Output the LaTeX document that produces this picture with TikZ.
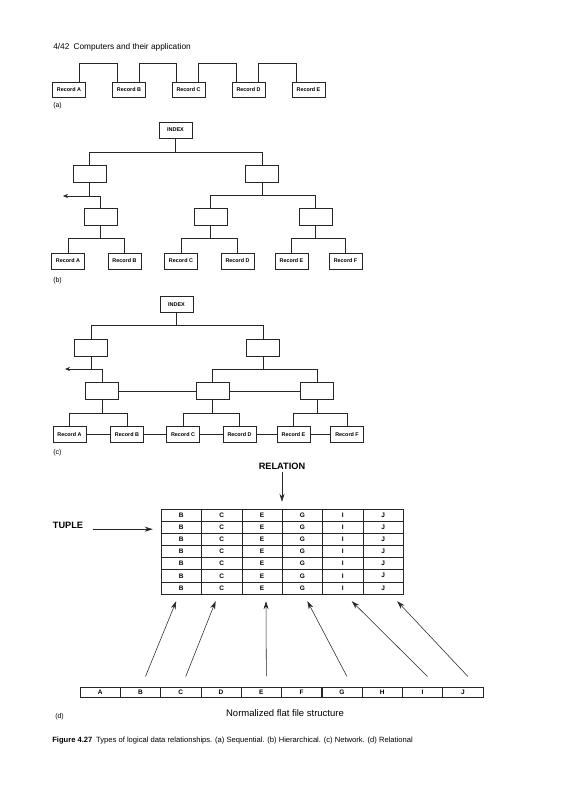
\documentclass[tikz,border=0pt]{standalone}
\usepackage{fontspec}
\setmainfont{Liberation Sans}
\usetikzlibrary{arrows.meta, calc}

\begin{document}
\begin{tikzpicture}[x=1pt, y=-1pt,
    every path/.style={line width=0.55pt, black!85},
    every node/.style={text=black},
    rec/.style={draw, minimum width=33pt, minimum height=16pt, inner sep=0pt,
                font=\fontsize{5.4}{6}\selectfont\bfseries},
    idx/.style={rec, font=\fontsize{5.5}{6}\selectfont\bfseries},
    cell/.style={draw, minimum width=40.4pt, minimum height=12.1pt, inner sep=0pt,
                 font=\fontsize{6.5}{7}\selectfont\bfseries},
    lbl/.style={anchor=west, inner sep=0pt, font=\fontsize{7}{8}\selectfont},
    big/.style={inner sep=0pt, font=\fontsize{9.2}{10}\selectfont\bfseries},
    arr/.style={-{Stealth[length=8pt, width=5pt]}},
    outarr/.style={-{Stealth[length=5pt, width=4pt]}}
  ]
  \path[use as bounding box, fill=white] (0,0) rectangle (567,800);

  \node[lbl, font=\fontsize{8.3}{9}\selectfont] (hdr) at (53,47) {4/42\enspace Computers and their application};

  % (a) sequential
  \foreach \n/\x in {A/69, B/129, C/188.5, D/248.5, E/308.5}
    \node[rec, minimum height=15pt] (a\n) at (\x,90) {Record \n};
  \foreach \p/\q in {A/B, B/C, C/D, D/E}
    \draw ([xshift=-7pt]a\p.north east) -- ++(0,-19) -| ([xshift=5pt]a\q.north west);
  \node[lbl] (la) at (53,106) {(a)};

  % (b) hierarchical
  \node[idx] (bIdx) at (175.5,130) {INDEX};
  \foreach \n/\x/\y in {bL1/89.5/173.5, bR1/262/173.5, bL2/100.5/217, bM2/210.5/217, bR2/315.5/217}
    \node[rec, minimum height=17pt] (\n) at (\x,\y) {};
  \foreach \n/\x in {A/68, B/124.5, C/181, D/237.5, E/291.5, F/345.5}
    \node[rec] (b\n) at (\x,261) {Record \n};
  \foreach \p/\l/\r/\y in {bIdx/bL1/bR1/152, bR1/bM2/bR2/195, bL2/bA/bB/238, bM2/bC/bD/238, bR2/bE/bF/238}
    \draw (\p.south) -- (\p.south |- 0,\y) (\l.north) |- (\r.north |- 0,\y) -- (\r.north);
  \coordinate (bOut) at (63,196);
  \draw (bL1.south) -- (bL1.south |- bOut);
  \draw[outarr] (bL2.north) |- (bOut);
  \node[lbl] (lb) at (53,281) {(b)};

  % (c) network
  \node[idx] (cIdx) at (176.5,304.5) {INDEX};
  \foreach \n/\x/\y in {cL1/91/347.5, cR1/263/347.5, cL2/102/391, cM2/212.5/391, cR2/317/391}
    \node[rec, minimum height=17pt] (\n) at (\x,\y) {};
  \foreach \n/\x in {A/69.5, B/127, C/183, D/239.5, E/293.5, F/347}
    \node[rec] (c\n) at (\x,434.5) {Record \n};
  \foreach \p/\l/\r/\y in {cIdx/cL1/cR1/325, cR1/cM2/cR2/369, cL2/cA/cB/413, cM2/cC/cD/413, cR2/cE/cF/413}
    \draw (\p.south) -- (\p.south |- 0,\y) (\l.north) |- (\r.north |- 0,\y) -- (\r.north);
  \coordinate (cOut) at (65,369);
  \draw (cL1.south) -- (cL1.south |- cOut);
  \draw[outarr] (cL2.north) |- (cOut);
  \draw (cL2) -- (cM2) -- (cR2);
  \draw (cA) -- (cB) -- (cC) -- (cD) -- (cE) -- (cF);
  \node[lbl] (lc) at (53,453) {(c)};

  % (d) relational
  \node[big] (rel) at (282,466) {RELATION};
  \foreach \l [count=\c] in {B,C,E,G,I,J}
    \foreach \r in {1,...,7}
      \node[cell] (t\r-\c) at ({161+40.4*(\c-0.5)},{509+12.14*(\r-0.5)}) {\l};
  \draw[arr, shorten <=2pt, shorten >=7pt] (rel.south) -- (rel.south |- t1-3.north);
  \node[big] (tup) at (68,525) {TUPLE};
  \draw[arr] ([xshift=-68pt, yshift=-2pt]t2-1.west) -- ([xshift=-8pt, yshift=-2pt]t2-1.west);

  \foreach \l [count=\c] in {A,B,C,D,E,F,G,H,I,J}
    \node[cell, minimum height=9.5pt] (f\c) at ({80+40.3*(\c-0.5)},692.5) {\l};
  \foreach \f/\t/\dx in {2/1/-5, 3/2/-6, 5/3/4, 7/4/5, 9/5/9, 10/6/14}
    \draw[arr] ([xshift=5pt, yshift=11pt]f\f.north) -- ([xshift=\dx pt, yshift=-7pt]t7-\t.south);
  \node[font=\fontsize{9.5}{10}\selectfont, inner sep=0pt] (nff) at (285,713) {Normalized flat file structure};
  \node[lbl] (ld) at (55,717) {(d)};

  \node[lbl, font=\fontsize{7.6}{9}\selectfont] (cap) at (52,741)
    {\textbf{Figure 4.27}\enspace Types of logical data relationships. (a) Sequential. (b) Hierarchical. (c) Network. (d) Relational};
\end{tikzpicture}
\end{document}
